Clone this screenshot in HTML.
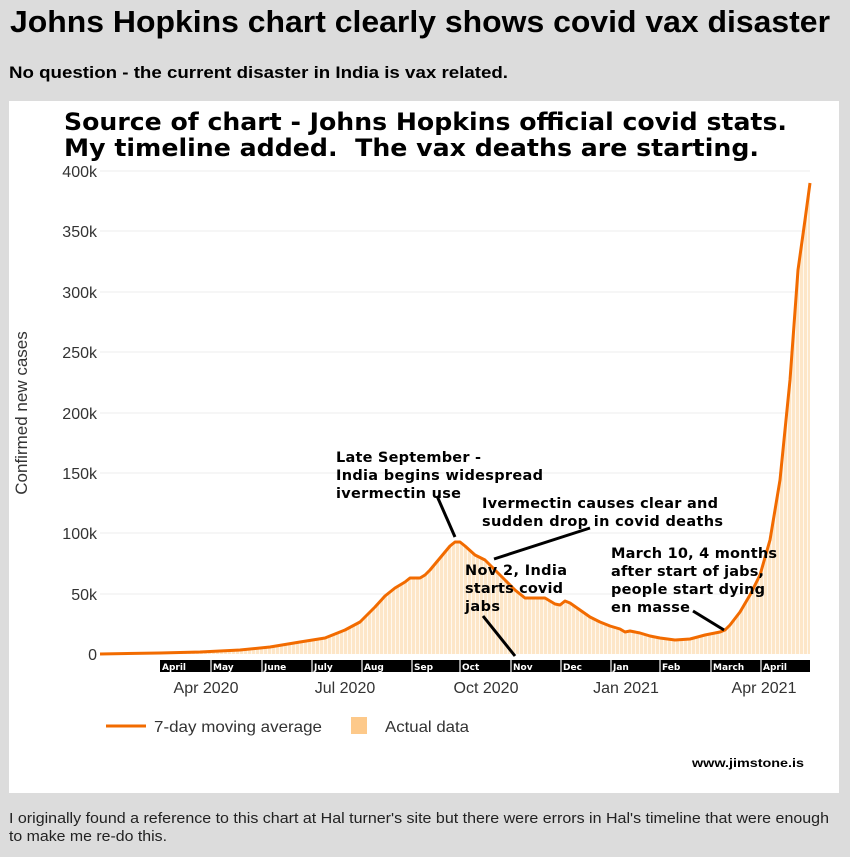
<!DOCTYPE html>
<html><head><meta charset="utf-8"><style>
html,body{margin:0;padding:0;background:#dcdcdc;}
svg{display:block}
</style></head><body>
<svg width="850" height="857" viewBox="0 0 850 857" xmlns="http://www.w3.org/2000/svg">
<defs>
<pattern id="st" width="4" height="10" patternUnits="userSpaceOnUse">
<rect x="0" y="0" width="3" height="10" fill="#fde6c8"/>
<rect x="3" y="0" width="1" height="10" fill="#fff8ee"/>
</pattern>
</defs>
<rect width="850" height="857" fill="#dcdcdc"/>
<text x="10" y="32" font-family="Liberation Sans, sans-serif" font-size="31" font-weight="bold" fill="#000" textLength="820" lengthAdjust="spacingAndGlyphs">Johns Hopkins chart clearly shows covid vax disaster</text>
<text x="9" y="78" font-family="Liberation Sans, sans-serif" font-size="17" font-weight="bold" fill="#000" textLength="499" lengthAdjust="spacingAndGlyphs">No question - the current disaster in India is vax related.</text>
<rect x="9" y="101" width="830" height="692" fill="#fff"/>
<text x="64" y="130" font-family="DejaVu Sans, sans-serif" font-size="24" font-weight="bold" textLength="723" lengthAdjust="spacingAndGlyphs">Source of chart - Johns Hopkins official covid stats.</text>
<text x="64" y="156" font-family="DejaVu Sans, sans-serif" font-size="24" font-weight="bold" textLength="695" lengthAdjust="spacingAndGlyphs">My timeline added.&#160; The vax deaths are starting.</text>
<g stroke="#ececec" stroke-width="1">
<line x1="100" y1="171" x2="810" y2="171"/><line x1="100" y1="231" x2="810" y2="231"/><line x1="100" y1="292" x2="810" y2="292"/><line x1="100" y1="352" x2="810" y2="352"/><line x1="100" y1="413" x2="810" y2="413"/><line x1="100" y1="473" x2="810" y2="473"/><line x1="100" y1="533" x2="810" y2="533"/><line x1="100" y1="594" x2="810" y2="594"/>
</g>
<g font-family="Liberation Sans, sans-serif" font-size="16" fill="#333" text-anchor="end">
<text x="97" y="177">400k</text><text x="97" y="237">350k</text><text x="97" y="298">300k</text><text x="97" y="358">250k</text><text x="97" y="419">200k</text><text x="97" y="479">150k</text><text x="97" y="539">100k</text><text x="97" y="600">50k</text><text x="97" y="660">0</text>
</g>
<text transform="translate(27,413) rotate(-90)" font-family="Liberation Sans, sans-serif" font-size="17" fill="#333" text-anchor="middle">Confirmed new cases</text>
<path fill="url(#st)" d="M160,654 L200,652 240,650 270,647 300,642 325,638 345,630 360,622 375,607 385,596 395,588 405,582 410,578 420,578 425,575 430,570 440,558 450,546 455,542 460,542 465,546 475,555 485,560 495,570 505,580 515,590 525,598 530,598 545,598 555,604 560,605 565,601 570,603 580,610 590,617 600,622 610,626 620,629 625,632 630,631 640,633 650,636 660,638 675,640 690,639 705,635 720,632 725,630 730,625 740,612 750,595 760,575 770,540 780,480 790,380 798,270 805,220 810,183 L810,654 Z"/>
<polyline fill="none" stroke="#f26b00" stroke-width="3" stroke-linejoin="round" points="100,654 160,653 200,652 240,650 270,647 300,642 325,638 345,630 360,622 375,607 385,596 395,588 405,582 410,578 420,578 425,575 430,570 440,558 450,546 455,542 460,542 465,546 475,555 485,560 495,570 505,580 515,590 525,598 530,598 545,598 555,604 560,605 565,601 570,603 580,610 590,617 600,622 610,626 620,629 625,632 630,631 640,633 650,636 660,638 675,640 690,639 705,635 720,632 725,630 730,625 740,612 750,595 760,575 770,540 780,480 790,380 798,270 805,220 810,183"/>
<rect x="160" y="660" width="650" height="12" fill="#000"/>
<g stroke="#fff" stroke-width="1.2">
<line x1="211" y1="660" x2="211" y2="672"/><line x1="262" y1="660" x2="262" y2="672"/><line x1="312" y1="660" x2="312" y2="672"/><line x1="362" y1="660" x2="362" y2="672"/><line x1="412" y1="660" x2="412" y2="672"/><line x1="460" y1="660" x2="460" y2="672"/><line x1="511" y1="660" x2="511" y2="672"/><line x1="561" y1="660" x2="561" y2="672"/><line x1="611" y1="660" x2="611" y2="672"/><line x1="660" y1="660" x2="660" y2="672"/><line x1="711" y1="660" x2="711" y2="672"/><line x1="761" y1="660" x2="761" y2="672"/>
</g>
<g font-family="DejaVu Sans, sans-serif" font-size="9" font-weight="bold" fill="#fff">
<text x="162" y="670">April</text><text x="213" y="670">May</text><text x="264" y="670">June</text><text x="314" y="670">July</text><text x="364" y="670">Aug</text><text x="414" y="670">Sep</text><text x="462" y="670">Oct</text><text x="513" y="670">Nov</text><text x="563" y="670">Dec</text><text x="613" y="670">Jan</text><text x="662" y="670">Feb</text><text x="713" y="670">March</text><text x="763" y="670">April</text>
</g>
<g font-family="Liberation Sans, sans-serif" font-size="16" fill="#333" text-anchor="middle">
<text x="206" y="693">Apr 2020</text><text x="345" y="693">Jul 2020</text><text x="486" y="693">Oct 2020</text><text x="626" y="693">Jan 2021</text><text x="764" y="693">Apr 2021</text>
</g>
<g stroke="#000" stroke-width="3">
<line x1="437" y1="496" x2="455" y2="537"/>
<line x1="494" y1="559" x2="590" y2="528"/>
<line x1="483" y1="616" x2="515" y2="656"/>
<line x1="693" y1="611" x2="724" y2="630"/>
</g>
<g font-family="DejaVu Sans, sans-serif" font-size="14.5" font-weight="bold" fill="#000" lengthAdjust="spacingAndGlyphs">
<text x="336" y="462" textLength="145">Late September -</text><text x="336" y="480" textLength="207">India begins widespread</text><text x="336" y="498" textLength="125">ivermectin use</text>
<text x="482" y="508" textLength="236">Ivermectin causes clear and</text><text x="482" y="526" textLength="241">sudden drop in covid deaths</text>
<text x="465" y="575" textLength="102">Nov 2, India</text><text x="465" y="593" textLength="98">starts covid</text><text x="465" y="611" textLength="35">jabs</text>
<text x="611" y="558" textLength="166">March 10, 4 months</text><text x="611" y="576" textLength="153">after start of jabs,</text><text x="611" y="594" textLength="154">people start dying</text><text x="611" y="612" textLength="79">en masse</text>
</g>
<line x1="106" y1="726" x2="146" y2="726" stroke="#f26b00" stroke-width="3"/>
<text x="154" y="732" font-family="Liberation Sans, sans-serif" font-size="16" fill="#333" textLength="168" lengthAdjust="spacingAndGlyphs">7-day moving average</text>
<rect x="351" y="717" width="16" height="17" fill="#fdc98a"/>
<text x="385" y="732" font-family="Liberation Sans, sans-serif" font-size="16" fill="#333" textLength="84" lengthAdjust="spacingAndGlyphs">Actual data</text>
<text x="692" y="767" font-family="Liberation Sans, sans-serif" font-size="12" font-weight="bold" fill="#000" textLength="112" lengthAdjust="spacingAndGlyphs">www.jimstone.is</text>
<text x="9" y="823" font-family="Liberation Sans, sans-serif" font-size="15" fill="#222" textLength="820" lengthAdjust="spacingAndGlyphs">I originally found a reference to this chart at Hal turner's site but there were errors in Hal's timeline that were enough</text>
<text x="9" y="841" font-family="Liberation Sans, sans-serif" font-size="15" fill="#222" textLength="158" lengthAdjust="spacingAndGlyphs">to make me re-do this.</text>
</svg>
</body></html>
